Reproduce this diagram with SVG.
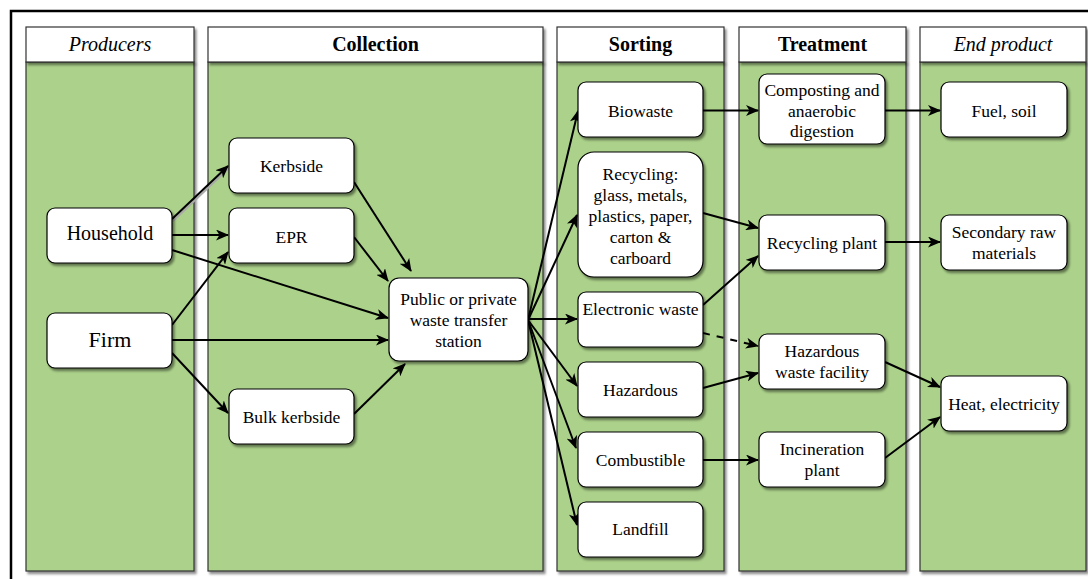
<svg xmlns="http://www.w3.org/2000/svg" width="1088" height="579" viewBox="0 0 1088 579">
<defs>
<filter id="sh" x="-10%" y="-10%" width="130%" height="130%">
<feDropShadow dx="2" dy="2.5" stdDeviation="1.2" flood-color="#000" flood-opacity="0.45"/>
</filter>
<marker id="ah" markerUnits="userSpaceOnUse" markerWidth="13" markerHeight="11" refX="12" refY="5.5" orient="auto">
<path d="M0,0 L13,5.5 L0,11 L3.5,5.5 Z" fill="#000"/>
</marker>
<style>
.lane{fill:#abd18a;stroke:#333;stroke-width:1.2}
.hdr{fill:#fff;stroke:#333;stroke-width:1.2}
.node{fill:#fff;stroke:#000;stroke-width:1.2}
text{font-family:"Liberation Serif","Times New Roman",serif;fill:#000;text-anchor:middle}
.h{font-size:20px}
.hb{font-weight:bold}
.hi{font-style:italic}
.t{font-size:17.5px}
.e{fill:none;stroke:#000;stroke-width:2;marker-end:url(#ah)}
.d{stroke-dasharray:7 7}
</style>
</defs>
<rect width="1088" height="579" fill="#fff"/>
<path d="M11,585 V11 H1095" fill="none" stroke="#000" stroke-width="2.5"/>

<g id="lane-producers">
<rect class="lane" x="26" y="62" width="168" height="509" filter="url(#sh)"/>
<rect class="hdr" x="26" y="27" width="168" height="35" filter="url(#sh)"/>
<text class="h hi" x="110" y="51">Producers</text>
</g>
<g id="lane-collection">
<rect class="lane" x="208" y="62" width="335" height="509" filter="url(#sh)"/>
<rect class="hdr" x="208" y="27" width="335" height="35" filter="url(#sh)"/>
<text class="h hb" x="375.5" y="51">Collection</text>
</g>
<g id="lane-sorting">
<rect class="lane" x="557" y="62" width="167" height="509" filter="url(#sh)"/>
<rect class="hdr" x="557" y="27" width="167" height="35" filter="url(#sh)"/>
<text class="h hb" x="640.5" y="51">Sorting</text>
</g>
<g id="lane-treatment">
<rect class="lane" x="739" y="62" width="167" height="509" filter="url(#sh)"/>
<rect class="hdr" x="739" y="27" width="167" height="35" filter="url(#sh)"/>
<text class="h hb" x="822.5" y="51">Treatment</text>
</g>
<g id="lane-end">
<rect class="lane" x="920" y="62" width="166" height="509" filter="url(#sh)"/>
<rect class="hdr" x="920" y="27" width="166" height="35" filter="url(#sh)"/>
<text class="h hi" x="1003" y="51">End product</text>
</g>

<g id="connectors">
<path d="M173,221 L229,168" fill="none" stroke="#aaa" stroke-width="2"/>
<path class="e" d="M172,219 L228,166"/>
<path class="e" d="M172,235 L228,235"/>
<path class="e" d="M172,250 L388,318"/>
<path class="e" d="M172,325 L228,252"/>
<path class="e" d="M172,340 L388,340"/>
<path class="e" d="M172,353 L228,413"/>
<path class="e" d="M354,182 L411,271"/>
<path class="e" d="M354,237 L388,281"/>
<path class="e" d="M354,414 L405,364"/>
<path class="e" d="M528,320 L578,111"/>
<path class="e" d="M528,320 L577,215"/>
<path class="e" d="M528,319 L577,319"/>
<path class="e" d="M528,320 L577,386"/>
<path class="e" d="M528,320 L576,448"/>
<path class="e" d="M528,320 L577,525"/>
<path class="e" d="M703,110.5 L758,110.5"/>
<path class="e" d="M885,110.5 L940,110.5"/>
<path class="e" d="M703,213 L758,228"/>
<path class="e" d="M703,305 L758,256"/>
<path class="e d" d="M703,333 L758,346"/>
<path class="e" d="M703,388 L758,373"/>
<path class="e" d="M885,242 L940,242"/>
<path class="e" d="M885,362 L940,387"/>
<path class="e" d="M703,460 L758,460"/>
<path class="e" d="M885,458 L940,417"/>
</g>

<g id="household"><rect class="node" x="47" y="208" width="125" height="55" rx="8" filter="url(#sh)"/><text x="110" y="240" style="font-size:20px">Household</text></g>
<g id="firm"><rect class="node" x="47" y="313" width="125" height="55" rx="8" filter="url(#sh)"/><text x="110" y="346.5" style="font-size:22px">Firm</text></g>
<g id="kerbside"><rect class="node" x="229" y="138" width="125" height="55" rx="8" filter="url(#sh)"/><text class="t" x="291.5" y="172">Kerbside</text></g>
<g id="epr"><rect class="node" x="229" y="208" width="125" height="55" rx="8" filter="url(#sh)"/><text class="t" x="291.5" y="242.5">EPR</text></g>
<g id="bulk"><rect class="node" x="229" y="389" width="125" height="55" rx="8" filter="url(#sh)"/><text class="t" x="291.5" y="423">Bulk kerbside</text></g>
<g id="station"><rect class="node" x="389" y="278" width="139" height="83" rx="10" filter="url(#sh)"/><text class="t" x="458.5" y="305">Public or private</text><text class="t" x="458.5" y="326">waste transfer</text><text class="t" x="458.5" y="347">station</text></g>
<g id="biowaste"><rect class="node" x="578" y="82" width="125" height="55" rx="8" filter="url(#sh)"/><text class="t" x="640.5" y="116.5">Biowaste</text></g>
<g id="recycling"><rect class="node" x="578" y="152" width="125" height="125" rx="16" filter="url(#sh)"/><text class="t" x="640.5" y="179.5">Recycling:</text><text class="t" x="640.5" y="200.5">glass, metals,</text><text class="t" x="640.5" y="221.5">plastics, paper,</text><text class="t" x="640.5" y="242.5">carton &amp;</text><text class="t" x="640.5" y="263.5">carboard</text></g>
<g id="electronic"><rect class="node" x="578" y="292" width="125" height="55" rx="8" filter="url(#sh)"/><text class="t" x="640.5" y="315">Electronic waste</text></g>
<g id="hazardous"><rect class="node" x="578" y="362" width="125" height="55" rx="8" filter="url(#sh)"/><text class="t" x="640.5" y="396">Hazardous</text></g>
<g id="combustible"><rect class="node" x="578" y="432" width="125" height="55" rx="8" filter="url(#sh)"/><text class="t" x="640.5" y="466">Combustible</text></g>
<g id="landfill"><rect class="node" x="578" y="502" width="125" height="55" rx="8" filter="url(#sh)"/><text class="t" x="640.5" y="535">Landfill</text></g>
<g id="composting"><rect class="node" x="759" y="74" width="126" height="70" rx="8" filter="url(#sh)"/><text class="t" x="822" y="96">Composting and</text><text class="t" x="822" y="116.5">anaerobic</text><text class="t" x="822" y="137">digestion</text></g>
<g id="recycling-plant"><rect class="node" x="759" y="215" width="126" height="55" rx="8" filter="url(#sh)"/><text class="t" x="822" y="249">Recycling plant</text></g>
<g id="hazardous-facility"><rect class="node" x="759" y="334" width="126" height="55" rx="8" filter="url(#sh)"/><text class="t" x="822" y="357">Hazardous</text><text class="t" x="822" y="377.5">waste facility</text></g>
<g id="incineration"><rect class="node" x="759" y="432" width="126" height="55" rx="8" filter="url(#sh)"/><text class="t" x="822" y="455">Incineration</text><text class="t" x="822" y="476">plant</text></g>
<g id="fuel"><rect class="node" x="941" y="82" width="126" height="55" rx="8" filter="url(#sh)"/><text class="t" x="1004" y="116.5">Fuel, soil</text></g>
<g id="secondary"><rect class="node" x="941" y="215" width="126" height="55" rx="8" filter="url(#sh)"/><text class="t" x="1004" y="237.5">Secondary raw</text><text class="t" x="1004" y="258.5">materials</text></g>
<g id="heat"><rect class="node" x="941" y="376" width="126" height="55" rx="8" filter="url(#sh)"/><text class="t" x="1004" y="410">Heat, electricity</text></g>
</svg>
